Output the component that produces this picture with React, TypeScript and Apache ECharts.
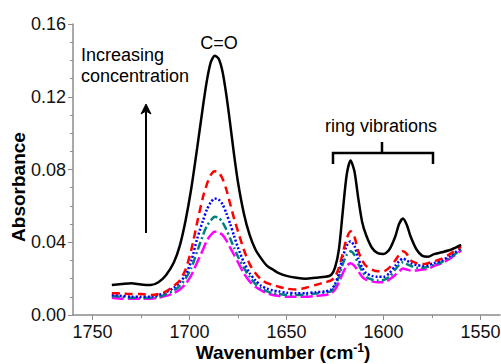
import React, { useEffect, useRef } from "react";
import * as echarts from "echarts";

const wavenumbers = [
  1740, 1735, 1730, 1725, 1720, 1716, 1712, 1708, 1705, 1702, 1699, 1696, 1693, 1691, 1689, 1687, 1685, 1683,
  1681, 1679, 1677, 1675, 1672, 1669, 1666, 1663, 1660, 1657, 1654, 1650, 1645, 1640, 1635, 1630, 1627, 1625,
  1623, 1621, 1619, 1617, 1615, 1613, 1611, 1609, 1606, 1603, 1600, 1597, 1594, 1592, 1590, 1588, 1586, 1583,
  1580, 1577, 1574, 1570, 1565, 1560,
];

const blackValues = [
  0.0165, 0.017, 0.0175, 0.0168, 0.0165, 0.018, 0.022, 0.029, 0.038, 0.052, 0.07, 0.092, 0.115, 0.129, 0.139,
  0.1425, 0.141, 0.134, 0.121, 0.105, 0.088, 0.073, 0.056, 0.044, 0.036, 0.031, 0.027, 0.025, 0.023, 0.0215,
  0.0205, 0.02, 0.0205, 0.021, 0.022, 0.026, 0.036, 0.057, 0.077, 0.085, 0.079, 0.064, 0.051, 0.044, 0.037,
  0.034, 0.0335, 0.036, 0.043, 0.05, 0.053, 0.0495, 0.043, 0.036, 0.0325, 0.032, 0.0335, 0.0345, 0.036, 0.0385,
];

const redValues = [
  0.012, 0.0118, 0.0115, 0.0115, 0.011, 0.0115, 0.013, 0.016, 0.019, 0.025, 0.036, 0.051, 0.065, 0.072, 0.077,
  0.079, 0.0785, 0.075, 0.069, 0.061, 0.053, 0.046, 0.036, 0.028, 0.023, 0.0195, 0.0175, 0.0165, 0.0155, 0.0145,
  0.014, 0.015, 0.0165, 0.018, 0.019, 0.021, 0.026, 0.034, 0.042, 0.046, 0.043, 0.035, 0.03, 0.027, 0.025, 0.024,
  0.024, 0.026, 0.03, 0.033, 0.035, 0.0335, 0.03, 0.0285, 0.028, 0.0285, 0.0295, 0.031, 0.034, 0.0375,
];

const blueValues = [
  0.011, 0.0105, 0.01, 0.01, 0.01, 0.011, 0.0125, 0.015, 0.018, 0.022, 0.03, 0.042, 0.052, 0.058, 0.062, 0.064,
  0.0635, 0.061, 0.056, 0.05, 0.0435, 0.037, 0.029, 0.023, 0.019, 0.016, 0.0145, 0.0135, 0.013, 0.0122, 0.012,
  0.012, 0.0125, 0.013, 0.014, 0.017, 0.023, 0.032, 0.038, 0.0405, 0.038, 0.031, 0.026, 0.023, 0.0215, 0.021,
  0.021, 0.023, 0.027, 0.0295, 0.031, 0.03, 0.0285, 0.0275, 0.027, 0.0275, 0.0285, 0.03, 0.033, 0.037,
];

const tealValues = [
  0.0105, 0.01, 0.0095, 0.0095, 0.0095, 0.01, 0.0115, 0.0135, 0.016, 0.02, 0.026, 0.035, 0.044, 0.049, 0.052,
  0.054, 0.0535, 0.051, 0.047, 0.042, 0.037, 0.032, 0.026, 0.021, 0.017, 0.0145, 0.013, 0.012, 0.0115, 0.011,
  0.011, 0.0112, 0.0118, 0.0125, 0.013, 0.016, 0.021, 0.028, 0.033, 0.035, 0.033, 0.028, 0.024, 0.021, 0.0195,
  0.019, 0.0192, 0.021, 0.025, 0.0275, 0.029, 0.028, 0.027, 0.026, 0.026, 0.0265, 0.0275, 0.029, 0.032, 0.036,
];

const magentaValues = [
  0.0095, 0.009, 0.009, 0.009, 0.009, 0.0095, 0.0105, 0.012, 0.014, 0.017, 0.022, 0.029, 0.036, 0.041, 0.044,
  0.0458, 0.0455, 0.044, 0.041, 0.037, 0.033, 0.029, 0.023, 0.0185, 0.0155, 0.0135, 0.012, 0.011, 0.0105, 0.01,
  0.01, 0.01, 0.0105, 0.011, 0.012, 0.014, 0.018, 0.023, 0.027, 0.0285, 0.027, 0.024, 0.021, 0.0195, 0.0185,
  0.018, 0.018, 0.0195, 0.022, 0.024, 0.0255, 0.025, 0.0245, 0.0245, 0.025, 0.0255, 0.027, 0.0285, 0.0315, 0.0355,
];

const xMajorTicks = [1550, 1600, 1650, 1700, 1750];
const xMinorTicks = [1575, 1625, 1675, 1725];
const FONT = "'Liberation Sans', Arial, Helvetica, sans-serif";

function pairs(vals: number[]) {
  return wavenumbers.map((w, i) => [w, vals[i]]);
}

export default function App() {
  const ref = useRef<HTMLDivElement>(null);
  useEffect(() => {
    if (!ref.current) return;
    const chart = echarts.init(ref.current, undefined, { renderer: "svg" });
    const axisGrey = "#8c8c8c";
    const mk = (name: string, vals: number[], color: string, type: any, width = 2.5) => ({
      name,
      type: "line",
      data: pairs(vals),
      showSymbol: false,
      smooth: 0.25,
      lineStyle: { color, width, type, cap: "butt" },
      z: 2,
    });
    chart.setOption({
      animation: false,
      backgroundColor: "#ffffff",
      grid: { left: 73, right: 1, top: 24, bottom: 49, containLabel: false, outerBoundsMode: "none" },
      xAxis: [
        {
          type: "value",
          min: 1540,
          max: 1760,
          inverse: true,
          axisLine: { show: true, lineStyle: { color: axisGrey, width: 1.5 } },
          axisTick: { show: true, customValues: xMajorTicks, length: 5, lineStyle: { color: axisGrey } },
          axisLabel: {
            customValues: xMajorTicks,
            margin: 8,
            fontSize: 18,
            fontFamily: FONT,
            color: "#111",
            formatter: (v: number) => String(v),
          },
          splitLine: { show: false },
        },
        {
          type: "value",
          min: 1540,
          max: 1760,
          inverse: true,
          position: "bottom",
          axisLine: { show: false },
          axisTick: { show: true, customValues: xMinorTicks, length: 3, lineStyle: { color: axisGrey } },
          axisLabel: { show: false },
          splitLine: { show: false },
        },
      ],
      yAxis: {
        type: "value",
        min: 0,
        max: 0.16,
        interval: 0.04,
        axisLine: { show: true, lineStyle: { color: axisGrey, width: 1.5 } },
        axisTick: { show: true, length: 5, lineStyle: { color: axisGrey } },
        minorTick: { show: true, splitNumber: 4, length: 3, lineStyle: { color: axisGrey } },
        axisLabel: {
          margin: 7,
          fontSize: 18,
          fontFamily: FONT,
          color: "#111",
          formatter: (v: number) => v.toFixed(2),
        },
        splitLine: { show: false },
      },
      series: [
        mk("c5", magentaValues, "#ff00ff", [12, 4]),
        mk("c4", tealValues, "#008080", [8, 3, 2, 3]),
        mk("c3", blueValues, "#0000ff", [2, 2]),
        mk("c2", redValues, "#ff0000", [8, 5]),
        mk("c1", blackValues, "#000000", "solid"),
      ],
      graphic: [
        {
          type: "text",
          x: 18,
          y: 187,
          rotation: Math.PI / 2,
          style: {
            text: "Absorbance",
            font: `bold 19px ${FONT}`,
            fill: "#000",
            align: "center",
            verticalAlign: "middle",
          },
        },
        {
          type: "text",
          x: 283,
          y: 352,
          style: {
            text: "{a|Wavenumber (cm}{s|-1}{a|)}",
            align: "center",
            verticalAlign: "middle",
            rich: {
              a: { font: `bold 19px ${FONT}`, fill: "#000" },
              s: { font: `bold 12px ${FONT}`, fill: "#000", verticalAlign: "top", padding: [0, 0, 8, 0] },
            },
          },
        },
        {
          type: "text",
          x: 81,
          y: 55,
          style: { text: "Increasing", font: `18px ${FONT}`, fill: "#000", align: "left", verticalAlign: "middle" },
        },
        {
          type: "text",
          x: 81,
          y: 76,
          style: { text: "concentration", font: `18px ${FONT}`, fill: "#000", align: "left", verticalAlign: "middle" },
        },
        {
          type: "line",
          shape: { x1: 146, y1: 233, x2: 146, y2: 110 },
          style: { stroke: "#000", lineWidth: 2 },
        },
        {
          type: "polygon",
          shape: { points: [[146, 104], [141, 114], [146, 111], [151, 114]] },
          style: { fill: "#000", stroke: "#000", lineWidth: 1 },
        },
        {
          type: "text",
          x: 219,
          y: 43,
          style: { text: "C=O", font: `18px ${FONT}`, fill: "#000", align: "center", verticalAlign: "middle" },
        },
        {
          type: "text",
          x: 381,
          y: 126,
          style: { text: "ring vibrations", font: `18px ${FONT}`, fill: "#000", align: "center", verticalAlign: "middle" },
        },
        {
          type: "polyline",
          shape: { points: [[333, 164], [333, 153], [433, 153], [433, 164]] },
          style: { stroke: "#000", lineWidth: 2.5, fill: "none" },
        },
        {
          type: "line",
          shape: { x1: 382, y1: 153, x2: 382, y2: 142 },
          style: { stroke: "#000", lineWidth: 2.5 },
        },
      ],
    });
    return () => chart.dispose();
  }, []);
  return <div ref={ref} style={{ width: 501, height: 364, position: "absolute", left: 0, top: 0 }} />;
}
